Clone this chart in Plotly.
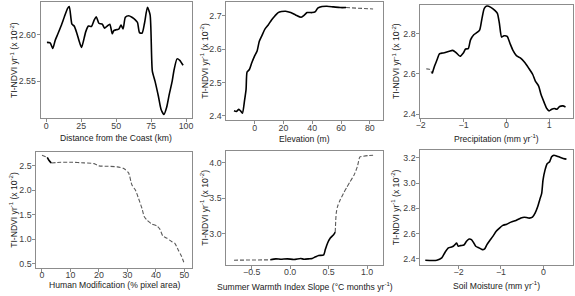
import plotly.graph_objects as go

W, H = 575, 296

# ---------------- data ----------------
# Panel 1: Distance from the Coast (km)
p1_x = [0.5, 2.8, 4.7, 6.4, 8.3, 10.6, 13, 15.3, 16.5, 18.4, 20, 21.9, 23.6, 25.2, 26.4, 28.3, 30.2, 32.3,
        34.2, 35.8, 37.7, 40.1, 41.7, 43.6, 45.5, 47.2, 48.3, 50, 51.9, 53.5, 55, 56.6, 59, 61.3, 63.7, 65.3,
        66.7, 68.6, 70.3, 72.4, 74.3, 75.9, 77.8, 80.2, 82.1, 84.2, 86.1, 88, 90.1, 91.5, 93.6, 95.5, 97.9]
p1_y = [2.5915, 2.591, 2.585, 2.5936, 2.6004, 2.609, 2.619, 2.628, 2.630, 2.611, 2.609, 2.6014, 2.5926,
        2.586, 2.5915, 2.603, 2.609, 2.6085, 2.615, 2.619, 2.612, 2.611, 2.6067, 2.609, 2.611, 2.6007,
        2.604, 2.605, 2.6057, 2.610, 2.606, 2.6184, 2.620, 2.6184, 2.6156, 2.6128, 2.602, 2.6014, 2.612,
        2.629, 2.621, 2.5606, 2.55, 2.534, 2.5199, 2.5142, 2.5216, 2.5358, 2.55, 2.5624, 2.5738, 2.5723, 2.567]

# Panel 2: Elevation (m)
p2_x = [-14.4, -12.8, -11, -9.9, -8.5, -7.1, -6, -5.3, -3.7, -2.1, -0.2, 1.6, 3.2, 5, 7.1, 9.4, 11.7, 14,
        16.3, 18.6, 21.5, 25, 28.4, 32.3, 34.6, 36.4, 39.9, 42.2, 43.8, 46.8, 50.2, 54.8, 59.4, 63.5]
p2_y = [2.4149, 2.4129, 2.4198, 2.415, 2.408, 2.4446, 2.479, 2.531, 2.5386, 2.558, 2.578, 2.593, 2.623,
        2.640, 2.6594, 2.672, 2.687, 2.699, 2.709, 2.712, 2.713, 2.709, 2.702, 2.695, 2.702, 2.709, 2.709,
        2.712, 2.722, 2.727, 2.728, 2.726, 2.724, 2.724]
p2_dash_x = [63.5, 82.3]
p2_dash_y = [2.724, 2.7198]

# Panel 3: Precipitation (mm yr-1)
p3_dash_x = [-1.87, -1.80, -1.732]
p3_dash_y = [2.6255, 2.624, 2.6025]
p3_x = [-1.732, -1.679, -1.617, -1.564, -1.487, -1.411, -1.334, -1.258, -1.181, -1.082, -1.005, -0.952,
        -0.890, -0.837, -0.760, -0.684, -0.622, -0.569, -0.515, -0.454, -0.362, -0.263, -0.209, -0.163,
        -0.110, -0.056, 0.020, 0.082, 0.158, 0.235, 0.327, 0.426, 0.518, 0.617, 0.678, 0.755, 0.809, 0.885,
        0.946, 1.0, 1.061, 1.122, 1.184, 1.245, 1.321, 1.383]
p3_y = [2.6025, 2.639, 2.672, 2.700, 2.7045, 2.7078, 2.7128, 2.7177, 2.7078, 2.688, 2.7045, 2.7243, 2.726,
        2.770, 2.795, 2.8066, 2.8198, 2.877, 2.9267, 2.938, 2.9317, 2.915, 2.902, 2.8527, 2.7835, 2.790,
        2.787, 2.754, 2.716, 2.691, 2.680, 2.6584, 2.6305, 2.5975, 2.5646, 2.540, 2.4988, 2.4576, 2.428,
        2.4165, 2.4247, 2.428, 2.4247, 2.4379, 2.4412, 2.436]

# Panel 4: Human Modification (% pixel area)
p4_dash1_x = [0.0, 1.85]
p4_dash1_y = [2.717, 2.676]
p4_x = [1.85, 2.5, 3.24]
p4_y = [2.676, 2.61, 2.56]
p4_dash2_x = [3.24, 6.7, 10.2, 14.8, 18.3, 20, 22.9, 26.4, 28.7, 30.4, 31.6, 32.8, 33.9, 35.1, 35.9, 37,
              38.5, 40.3, 41.4, 42.4, 43.8, 45.5, 46.6, 47.8, 49, 49.8]
p4_dash2_y = [2.56, 2.575, 2.575, 2.561, 2.547, 2.5, 2.493, 2.48, 2.446, 2.358, 2.107, 2.005, 1.836, 1.632,
              1.463, 1.381, 1.313, 1.273, 1.205, 1.069, 1.022, 0.954, 0.920, 0.785, 0.649, 0.527]

# Panel 5: Summer Warmth Index Slope
p5_dash1_x = [-0.73, -0.258]
p5_dash1_y = [2.626, 2.631]
p5_x = [-0.258, -0.186, -0.121, -0.036, 0.05, 0.136, 0.179, 0.243, 0.286, 0.329, 0.371, 0.436, 0.457,
        0.487, 0.522, 0.564, 0.586]
p5_y = [2.631, 2.645, 2.640, 2.645, 2.636, 2.650, 2.640, 2.645, 2.650, 2.673, 2.692, 2.701, 2.776, 2.869,
        2.939, 2.986, 3.023]
p5_dash2_x = [0.586, 0.599, 0.616, 0.650, 0.693, 0.736, 0.779, 0.830, 0.873, 0.907, 0.950, 1.014, 1.078]
p5_dash2_y = [3.023, 3.29, 3.383, 3.477, 3.570, 3.654, 3.734, 3.827, 3.944, 4.084, 4.093, 4.103, 4.107]

# Panel 6: Soil Moisture (mm yr-1)
p6_x = [-2.786, -2.514, -2.397, -2.319, -2.241, -2.163, -2.125, -2.086, -2.047, -2.008, -1.953, -1.875,
        -1.813, -1.751, -1.696, -1.642, -1.595, -1.517, -1.440, -1.385, -1.331, -1.268, -1.191, -1.113,
        -1.035, -0.957, -0.864, -0.763, -0.646, -0.529, -0.451, -0.397, -0.335, -0.257, -0.195, -0.132,
        -0.086, -0.039, -0.008, 0.039, 0.093, 0.148, 0.195, 0.249, 0.327, 0.405, 0.506, 0.545]
p6_y = [2.389, 2.389, 2.408, 2.4525, 2.487, 2.4944, 2.50, 2.513, 2.526, 2.50, 2.505, 2.510, 2.539, 2.557,
        2.552, 2.526, 2.50, 2.487, 2.4735, 2.479, 2.513, 2.544, 2.578, 2.618, 2.644, 2.665, 2.675, 2.691,
        2.704, 2.723, 2.730, 2.728, 2.723, 2.730, 2.762, 2.814, 2.867, 2.919, 3.024, 3.103, 3.155, 3.169,
        3.208, 3.221, 3.213, 3.203, 3.192, 3.190]

y_title = "TI-NDVI yr<sup>-1</sup> (x 10<sup>-2</sup>)"
x_titles = ["Distance from the Coast (km)", "Elevation (m)", "Precipitation (mm yr<sup>-1</sup>)",
            "Human Modification (% pixel area)", "Summer Warmth Index Slope (°C months yr<sup>-1</sup>)",
            "Soil Moisture (mm yr<sup>-1</sup>)"]

# ---------------- layout geometry (pixels) ----------------
boxes = [  # left, right, top, bottom
    (36, 189.3, 1.7, 119.3),
    (223.7, 382, 1.7, 121.0),
    (419.7, 573.7, 4.7, 118.3),
    (31.7, 189.3, 153, 269.7),
    (223.7, 382, 152, 266.3),
    (419.7, 573.7, 151.3, 266.3),
]
xranges = [[-4.0, 104.5], [-19.7, 89.2], [-2.01, 1.551], [-1.97, 52.8], [-0.829, 1.207], [-2.903, 0.693]]
yranges = [[2.5099, 2.6351], [2.387, 2.7416], [2.3835, 2.945], [0.412, 2.785], [2.565, 4.168], [2.3554, 3.260]]
xticks = [dict(tickvals=[0, 25, 50, 75, 100]),
          dict(tickvals=[0, 20, 40, 60, 80]),
          dict(tickvals=[-2, -1, 0, 1]),
          dict(tickvals=[0, 10, 20, 30, 40, 50]),
          dict(tickvals=[-0.5, 0, 0.5, 1.0], tickformat=".1f"),
          dict(tickvals=[-2, -1, 0])]
yticks = [dict(tickvals=[2.55, 2.60], tickformat=".2f"),
          dict(tickvals=[2.4, 2.5, 2.6, 2.7], tickformat=".1f"),
          dict(tickvals=[2.4, 2.6, 2.8], tickformat=".1f"),
          dict(tickvals=[0.5, 1.0, 1.5, 2.0, 2.5], tickformat=".1f"),
          dict(tickvals=[3.0, 3.5, 4.0], tickformat=".1f"),
          dict(tickvals=[2.4, 2.6, 2.8, 3.0, 3.2], tickformat=".1f")]
ytitle_x = [9.0, 202, 395, 9.0, 202, 395]
xtitle_y = [138.5, 139.5, 139.5, 287, 288, 287]

FONT = "Liberation Sans, Arial, sans-serif"
SOLID = dict(color="black", width=1.6)
DASH = dict(color="#5a5a5a", width=1.1, dash="4px,2px")

fig = go.Figure()

segments = [
    [(p1_x, p1_y, SOLID)],
    [(p2_x, p2_y, SOLID), (p2_dash_x, p2_dash_y, DASH)],
    [(p3_dash_x, p3_dash_y, DASH), (p3_x, p3_y, SOLID)],
    [(p4_dash1_x, p4_dash1_y, DASH), (p4_dash2_x, p4_dash2_y, DASH), (p4_x, p4_y, SOLID)],
    [(p5_dash1_x, p5_dash1_y, DASH), (p5_dash2_x, p5_dash2_y, DASH), (p5_x, p5_y, SOLID)],
    [(p6_x, p6_y, SOLID)],
]

annotations = []
for i in range(6):
    n = "" if i == 0 else str(i + 1)
    for xs, ys, ln in segments[i]:
        fig.add_trace(go.Scatter(x=xs, y=ys, mode="lines", line=dict(ln, shape="spline", smoothing=0.6),
                                 xaxis="x" + n, yaxis="y" + n, showlegend=False, hoverinfo="skip"))
    l, r, t, b = boxes[i]
    common = dict(showline=True, mirror=True, linecolor="#8c8c8c", linewidth=1, showgrid=False,
                  zeroline=False, ticks="outside", ticklen=3, tickcolor="#8c8c8c", tickwidth=1,
                  tickfont=dict(family=FONT, size=8.8, color="#404040"))
    fig.update_layout(**{
        "xaxis" + n: dict(common, domain=[l / W, r / W], range=xranges[i], anchor="y" + n,
                          ticklabelstandoff=-4, **xticks[i]),
        "yaxis" + n: dict(common, domain=[1 - b / H, 1 - t / H], range=yranges[i], anchor="x" + n,
                          ticklabelstandoff=-1, **yticks[i]),
    })
    annotations.append(dict(text=x_titles[i], xref="paper", yref="paper", x=(l + r) / 2 / W,
                            y=1 - xtitle_y[i] / H, xanchor="center", yanchor="middle", showarrow=False,
                            font=dict(family=FONT, size=8.6, color="#1a1a1a")))
    annotations.append(dict(text=y_title, xref="paper", yref="paper", x=ytitle_x[i] / W,
                            y=1 - (t + b) / 2 / H, xanchor="center", yanchor="middle", textangle=-90,
                            showarrow=False, font=dict(family=FONT, size=8.6, color="#1a1a1a")))

fig.update_layout(width=W, height=H, margin=dict(l=0, r=0, t=0, b=0), paper_bgcolor="white",
                  plot_bgcolor="white", annotations=annotations, font=dict(family=FONT))
fig.write_html("out.html", config={"displayModeBar": False},
               post_script="document.body.style.margin='0';document.body.style.padding='0';"
                           "document.body.style.overflow='hidden';")
